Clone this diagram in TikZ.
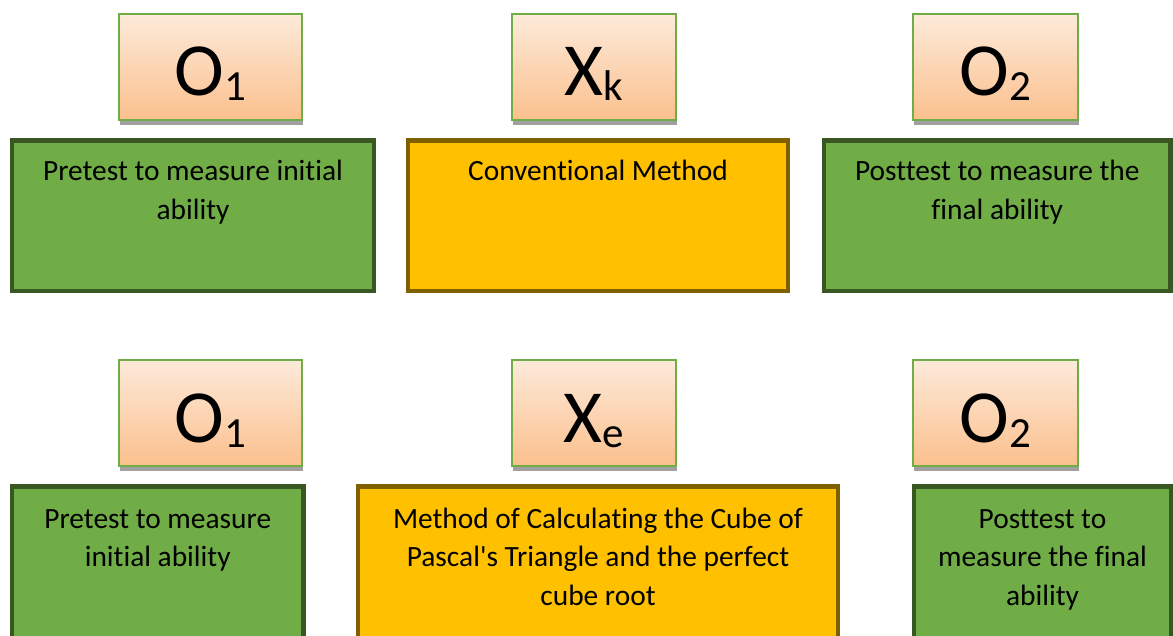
\documentclass[tikz,border=0pt]{standalone}
\usepackage{fontspec}
\newfontfamily\carl{Carlito}[Ligatures={NoCommon,NoRare,NoContextual}]
\usetikzlibrary{positioning}
\definecolor{peachtop}{RGB}{253,234,218}
\definecolor{peachbot}{RGB}{251,192,141}
\definecolor{smallborder}{RGB}{112,173,71}
\definecolor{gfill}{RGB}{112,173,71}
\definecolor{gborder}{RGB}{56,87,35}
\definecolor{ofill}{RGB}{255,192,0}
\definecolor{oborder}{RGB}{127,96,0}
\definecolor{shade}{RGB}{160,160,160}
\newcommand\symlabel[2]{{\fontsize{75}{75}\selectfont #1\raisebox{-5.5pt}{\fontsize{43}{43}\selectfont #2}}}
\tikzset{
  symbox/.style={draw=smallborder, line width=2pt, top color=peachtop, bottom color=peachbot,
    minimum width=#1, minimum height=106pt, inner sep=0pt, outer sep=0pt},
  symshadow/.style={fill=shade, draw=none, minimum width=#1, minimum height=106pt, inner sep=0pt},
  symtext/.style={anchor=base, inner sep=0pt, font=\carl},
  greenbox/.style={draw=gborder, fill=gfill, line width=4.5pt, inner sep=0pt, outer sep=0pt},
  orangebox/.style={draw=oborder, fill=ofill, line width=4.5pt, inner sep=0pt, outer sep=0pt},
  boxtext/.style={anchor=base, align=center, inner sep=0pt, font=\carl\fontsize{29.4}{38.7}\selectfont},
}
\begin{document}
\begin{tikzpicture}[x=1pt,y=-1pt]
\useasboundingbox (0,0) rectangle (1173,635);
\clip (0,0) rectangle (1173,635);
% ---------- top row ----------
\node[symshadow=183pt] (s1) at (211.5,72) {};
\node[symshadow=164pt] (s2) at (595,72) {};
\node[symshadow=165pt] (s3) at (996.5,72) {};
\node[symbox=183pt] (o1a) at (210.5,67) {};
\node[symbox=164pt] (xk) at (594,67) {};
\node[symbox=165pt] (o2a) at (995.5,67) {};
\node[symtext] (o1at) at ([yshift=-81pt]o1a.north) {\symlabel{O}{1}};
\node[symtext] (xkt) at ([yshift=-81pt]xk.north) {\symlabel{X}{k}};
\node[symtext] (o2at) at ([yshift=-81pt]o2a.north) {\symlabel{O}{2}};

\node[greenbox, minimum width=362pt, minimum height=150.5pt, anchor=north west] (pre1) at (12,140.5) {};
\node[orangebox, minimum width=380pt, minimum height=150.5pt, anchor=north west] (conv) at (408,140.5) {};
\node[greenbox, minimum width=346.5pt, minimum height=150.5pt, anchor=north west] (post1) at (824,140.5) {};
\node[boxtext] (pre1t) at ([yshift=-79pt]pre1.north) {Pretest to measure initial\\ability};
\node[boxtext] (convt) at ([yshift=-40.3pt]conv.north) {Conventional Method};
\node[boxtext] (post1t) at ([yshift=-79pt]post1.north) {Posttest to measure the\\final ability};

% ---------- bottom row ----------
\node[symshadow=183pt] (s4) at (211.5,418) {};
\node[symshadow=164pt] (s5) at (595,418) {};
\node[symshadow=165pt] (s6) at (996.5,418) {};
\node[symbox=183pt] (o1b) at (210.5,413) {};
\node[symbox=164pt] (xe) at (594,413) {};
\node[symbox=165pt] (o2b) at (995.5,413) {};
\node[symtext] (o1bt) at ([yshift=-82pt]o1b.north) {\symlabel{O}{1}};
\node[symtext] (xet) at ([yshift=-82pt]xe.north) {\symlabel{X}{e}};
\node[symtext] (o2bt) at ([yshift=-82pt]o2b.north) {\symlabel{O}{2}};

\node[greenbox, minimum width=291.5pt, minimum height=180pt, anchor=north west] (pre2) at (12,486.5) {};
\node[orangebox, minimum width=480pt, minimum height=180pt, anchor=north west] (exp) at (358,486.5) {};
\node[greenbox, minimum width=257pt, minimum height=180pt, anchor=north west] (post2) at (914,486.5) {};
\node[boxtext] (pre2t) at ([yshift=-80.2pt]pre2.north) {Pretest to measure\\initial ability};
\node[boxtext] (expt) at ([yshift=-118.9pt]exp.north) {Method of Calculating the Cube of\\Pascal's Triangle and the perfect\\cube root};
\node[boxtext] (post2t) at ([yshift=-118.9pt]post2.north) {Posttest to\\measure the final\\ability};
\end{tikzpicture}
\end{document}
